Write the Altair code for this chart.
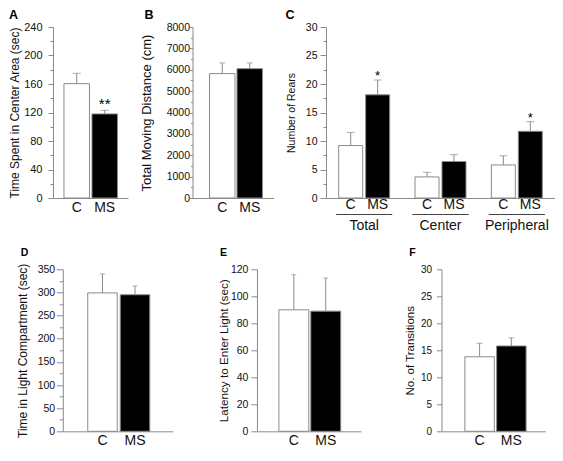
import altair as alt
import pandas as pd

FONT = "Liberation Sans"
GRAY = "#8a8a8a"
TEXT = "#111111"

conds = ["C", "MS"]
panel_letters = ["A", "B", "C", "D", "E", "F"]

# Panel A: time spent in center area (sec)
a_mean = [160.5, 118]
a_sem = [14.5, 5]
a_sig = ["", "**"]

# Panel B: total moving distance (cm)
b_mean = [5820, 6050]
b_sem = [500, 270]
b_sig = ["", ""]

# Panel C: number of rears
c_groups = ["Total", "Center", "Peripheral"]
c_mean = [9.2, 18.1, 3.7, 6.4, 5.8, 11.7]
c_sem = [2.3, 2.6, 0.8, 1.2, 1.6, 1.7]
c_sig = ["", "*", "", "", "", "*"]

# Panel D: time in light compartment (sec)
d_mean = [299, 295]
d_sem = [41, 19]
d_sig = ["", ""]

# Panel E: latency to enter light (sec)
e_mean = [90, 89]
e_sem = [26, 24.5]
e_sig = ["", ""]

# Panel F: number of transitions
f_mean = [13.8, 15.8]
f_sem = [2.5, 1.5]
f_sig = ["", ""]

H_TOP = 171
H_BOT = 162
LET_TOP = -18.3
LET_BOT = -21


def y_axis(title, ymax, major, minor, label_size, title_size, tick, minor_tick,
           label_pad, title_left):
    # title_left: distance from the axis line to the outer edge of the title box
    n = int(round(ymax / minor))
    vals = [i * minor for i in range(n + 1)]
    return alt.Axis(
        title=title, values=vals, tickCount=len(vals) + 5, labelOverlap=False,
        labelExpr=f"datum.value % {major} == 0 ? format(datum.value, 'd') : ''",
        tickSize={"condition": {"test": f"datum.value % {major} == 0", "value": tick},
                  "value": minor_tick},
        labelPadding=label_pad, labelFontSize=label_size, labelFont=FONT,
        titleFontSize=title_size, titleFontWeight="normal", titleFont=FONT,
        minExtent=20, maxExtent=20, titlePadding=title_left - title_size - 20,
        domainColor=GRAY, tickColor=GRAY, labelColor=TEXT, titleColor=TEXT,
        grid=False,
    )


def letter_mark(letter, dx, dy, size):
    return alt.Chart(pd.DataFrame({"t": [letter]})).mark_text(
        align="left", baseline="top", fontSize=size, fontWeight="bold", font=FONT,
        color="black").encode(x=alt.value(dx), y=alt.value(dy), text="t:N")


def two_bar_panel(means, sems, sigs, w, h, xscale, yaxis, ymax, cap, xlabel_pad,
                  star_size, star_dy, letter):
    df = pd.DataFrame({"grp": conds, "mean": means,
                       "top": [m + s for m, s in zip(means, sems)], "sig": sigs})
    base = alt.Chart(df)
    x = alt.X("grp:N", sort=conds, scale=alt.Scale(**xscale),
              axis=alt.Axis(title=None, labelAngle=0, ticks=False, tickSize=0,
                            labelPadding=xlabel_pad, labelFontSize=14, labelFont=FONT,
                            labelColor=TEXT, domainColor=GRAY))
    y = alt.Y("mean:Q", scale=alt.Scale(domain=[0, ymax], nice=False), axis=yaxis)
    bars = base.mark_bar(stroke=GRAY, strokeWidth=1).encode(
        x=x, y=y,
        fill=alt.Fill("grp:N", scale=alt.Scale(domain=conds, range=["white", "black"]),
                      legend=None))
    err = base.mark_rule(color=GRAY).encode(x=x, y="mean:Q", y2="top:Q")
    capm = base.mark_tick(orient="horizontal", size=cap, thickness=1, color=GRAY).encode(
        x=x, y="top:Q")
    star = base.mark_text(fontSize=star_size, dy=star_dy, color="black", font=FONT).encode(
        x=x, y="top:Q", text="sig:N")
    return alt.layer(bars, err, capm, star, letter).properties(width=w, height=h)


A = two_bar_panel(a_mean, a_sem, a_sig, 75, H_TOP,
                  dict(paddingInner=0.089, paddingOuter=0.384, align=0.51),
                  y_axis("Time Spent in Center Area (sec)", 240, 40, 20, 11, 12, 5, 3, 6, 43.5),
                  240, 8, 2.5, 15, -6, letter_mark(panel_letters[0], -44, LET_TOP, 12.5))

B = two_bar_panel(b_mean, b_sem, b_sig, 81, H_TOP,
                  dict(paddingInner=0.073, paddingOuter=0.509, align=0.607),
                  y_axis("Total Moving Distance (cm)", 8000, 1000, 500, 10.5, 13, 3, 2, 0, 52.5),
                  8000, 6, 2.5, 15, -4, letter_mark(panel_letters[1], -48, LET_TOP, 12.5))

# Panel C
dfc = pd.DataFrame({
    "grp": [g for g in c_groups for _ in conds],
    "cond": conds * len(c_groups),
    "mean": c_mean,
    "top": [m + s for m, s in zip(c_mean, c_sem)],
    "sig": c_sig,
})
basec = alt.Chart(dfc)
xc = alt.X("grp:N", sort=c_groups, scale=alt.Scale(paddingInner=0, paddingOuter=0),
           axis=alt.Axis(title=None, labelAngle=0, ticks=False, tickSize=0, labelPadding=20.4,
                         labelFontSize=14, labelFont=FONT, labelColor=TEXT, domainColor=GRAY))
xo = alt.XOffset("cond:N", sort=conds, scale=alt.Scale(paddingInner=0.11, paddingOuter=0.47))
yc = alt.Y("mean:Q", scale=alt.Scale(domain=[0, 30], nice=False),
           axis=y_axis("Number of Rears", 30, 5, 2.5, 10.5, 10.5, 6, 3, 3, 40.5))
c_bars = basec.mark_bar(stroke=GRAY, strokeWidth=1).encode(
    x=xc, xOffset=xo, y=yc,
    fill=alt.Fill("cond:N", scale=alt.Scale(domain=conds, range=["white", "black"]),
                  legend=None))
c_err = basec.mark_rule(color=GRAY).encode(x=xc, xOffset=xo, y="mean:Q", y2="top:Q")
c_cap = basec.mark_tick(orient="horizontal", size=8, thickness=1, color=GRAY).encode(
    x=xc, xOffset=xo, y="top:Q")
c_star = basec.mark_text(fontSize=13, dy=-4, color="black", font=FONT).encode(
    x=xc, xOffset=xo, y="top:Q", text="sig:N")
c_lab = basec.mark_text(fontSize=14, baseline="middle", color=TEXT, font=FONT).encode(
    x=xc, xOffset=xo, y=alt.value(H_TOP + 6.5), text="cond:N")
c_line = basec.mark_tick(orient="horizontal", size=56, thickness=1, color="#333333").encode(
    x=xc, y=alt.value(H_TOP + 16.4))
C = alt.layer(c_bars, c_err, c_cap, c_star, c_lab, c_line,
              letter_mark(panel_letters[2], -40.5, LET_TOP, 12.5)).properties(
    width=229, height=H_TOP)

D = two_bar_panel(d_mean, d_sem, d_sig, 110, H_BOT,
                  dict(paddingInner=0.092, paddingOuter=0.738, align=0.52),
                  y_axis("Time in Light Compartment (sec)", 350, 50, 25, 10.5, 12, 6.5, 3.5, 1.6, 45),
                  350, 5, 2, 15, -4, letter_mark(panel_letters[3], -42, LET_BOT, 10.5))

E = two_bar_panel(e_mean, e_sem, e_sig, 104, H_BOT,
                  dict(paddingInner=0.0625, paddingOuter=0.661, align=0.52),
                  y_axis("Latency to Enter Light (sec)", 120, 20, 20, 10.5, 11.7, 6, 6, 3, 38.85),
                  120, 5, 2, 15, -4, letter_mark(panel_letters[4], -37, LET_BOT, 10.5))

F = two_bar_panel(f_mean, f_sem, f_sig, 103.7, H_BOT,
                  dict(paddingInner=0.0715, paddingOuter=0.669, align=0.55),
                  y_axis("No. of Transitions", 30, 5, 5, 10, 11.5, 5, 5, 5, 37.75),
                  30, 6, 2, 15, -4, letter_mark(panel_letters[5], -32.3, LET_BOT, 10.5))

top = alt.hconcat(A, B, C, spacing=11.5)
bottom = alt.hconcat(D, alt.hconcat(E, F, spacing=42.55), spacing=45.15)

chart = alt.vconcat(top, bottom, spacing=15.3, center=True).properties(
    padding={"left": 0, "top": 0, "right": 0, "bottom": 0}
).configure(font=FONT).configure_view(stroke=None)

chart.save("out.html", embed_options={"renderer": "svg", "actions": False})
